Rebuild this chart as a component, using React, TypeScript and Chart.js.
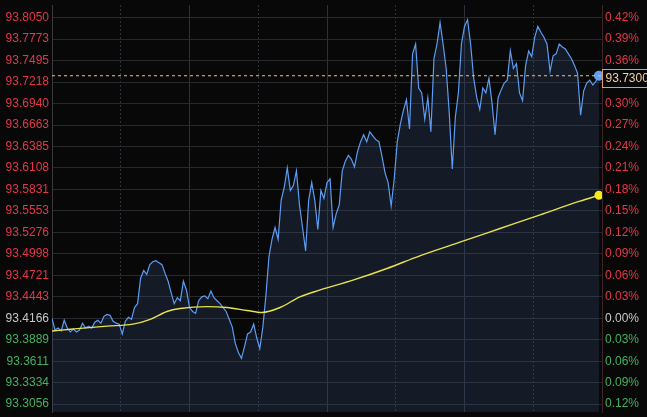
import React, { useEffect, useRef } from "react";
import { Chart, registerables } from "chart.js";

Chart.register(...registerables);

// ---- data ----
const PREV_CLOSE = 93.4166;
const LAST_PRICE = 93.73;
const SESSION_MINUTES = 1440;
const STEP_MINUTES = 8;

const prices = [
  93.4166, 93.4014, 93.404, 93.4002, 93.4141, 93.404, 93.3989, 93.4027, 93.3989, 93.4014,
  93.4103, 93.404, 93.4065, 93.404, 93.4115, 93.4141, 93.4103, 93.4191, 93.4216, 93.4204,
  93.4128, 93.4103, 93.409, 93.3964, 93.4128, 93.4178, 93.4153, 93.4305, 93.4355, 93.4683,
  93.4784, 93.4733, 93.4859, 93.4897, 93.491, 93.4885, 93.4859, 93.4746, 93.4645, 93.4494,
  93.4355, 93.4431, 93.4393, 93.4645, 93.4532, 93.4305, 93.4254, 93.4229, 93.4393, 93.4443,
  93.4456, 93.4418, 93.4519, 93.4431, 93.4393, 93.4355, 93.4305, 93.4254, 93.4153, 93.4052,
  93.3838, 93.3724, 93.3649, 93.38, 93.3964, 93.3989, 93.409, 93.3914, 93.3775, 93.4052,
  93.4456, 93.496, 93.5187, 93.5339, 93.5187, 93.5692, 93.5856, 93.6108, 93.5818, 93.5881,
  93.607, 93.5629, 93.5339, 93.5036, 93.5692, 93.5919, 93.5692, 93.5313, 93.5818, 93.5717,
  93.5919, 93.5969, 93.5339, 93.5515, 93.5629, 93.607, 93.6196, 93.6272, 93.6221, 93.6121,
  93.6322, 93.6448, 93.6537, 93.6448, 93.6575, 93.6524, 93.6474, 93.6448, 93.6259, 93.6045,
  93.5919, 93.5616, 93.5969, 93.6448, 93.6675, 93.6852, 93.6991, 93.6612, 93.7583, 93.771,
  93.7142, 93.7079, 93.6738, 93.7016, 93.6575, 93.752, 93.771, 93.7987, 93.771, 93.7394,
  93.6827, 93.6095, 93.6764, 93.7079, 93.771, 93.7937, 93.8025, 93.771, 93.7268, 93.7016,
  93.6865, 93.7142, 93.7079, 93.7268, 93.6953, 93.6537, 93.7016, 93.7117, 93.7205, 93.7243,
  93.7621, 93.7394, 93.7457, 93.7079, 93.6978, 93.7432, 93.7621, 93.7546, 93.7798, 93.7937,
  93.7861, 93.7798, 93.771, 93.7356, 93.7558, 93.7583, 93.771, 93.7672, 93.7646, 93.7583,
  93.752, 93.7432, 93.7331, 93.6789, 93.7104, 93.7205, 93.7243, 93.718, 93.723, 93.73,
];

const avgTimes = [0, 55, 144, 212, 257, 301, 335, 406, 458, 511, 550, 597, 649, 702, 788, 877, 963, 1068, 1173, 1278, 1382, 1432];
const avgPrices = [
  93.4002, 93.4027, 93.4065, 93.409, 93.4153, 93.4254, 93.4292, 93.4317, 93.4305, 93.4267, 93.4241,
  93.4305, 93.4443, 93.4532, 93.4658, 93.4809, 93.4973, 93.5149, 93.5326, 93.5503, 93.5679, 93.5755,
];

const priceTicks = [
  93.805, 93.7773, 93.7495, 93.7218, 93.694, 93.6663, 93.6385, 93.6108, 93.5831, 93.5553,
  93.5276, 93.4998, 93.4721, 93.4443, 93.4166, 93.3889, 93.3611, 93.3334, 93.3056,
];
const priceTickLabels = [
  "93.8050", "93.7773", "93.7495", "93.7218", "93.6940", "93.6663", "93.6385", "93.6108", "93.5831", "93.5553",
  "93.5276", "93.4998", "93.4721", "93.4443", "93.4166", "93.3889", "93.3611", "93.3334", "93.3056",
];
const pctTickLabels = [
  "0.42%", "0.39%", "0.36%", "0.33%", "0.30%", "0.27%", "0.24%", "0.21%", "0.18%", "0.15%",
  "0.12%", "0.09%", "0.06%", "0.03%", "0.00%", "0.03%", "0.06%", "0.09%", "0.12%",
];
const solidGridTimes = [0, 360, 720, 1080, 1440];
const dottedGridTimes = [180, 540, 900, 1260];

const Y_MIN = 93.2955;
const Y_MAX = 93.8214;

const RED = "#e2384a";
const GREEN = "#43b160";
const NEUTRAL = "#c8c8c8";
const FONT = { family: "'Liberation Sans', Arial, sans-serif", size: 12 };

function tickColor(v: number) {
  if (Math.abs(v - PREV_CLOSE) < 0.00005) return NEUTRAL;
  return v > PREV_CLOSE ? RED : GREEN;
}
function labelIndex(v: number) {
  let best = 0;
  let bd = Infinity;
  priceTicks.forEach((t, i) => {
    const d = Math.abs(t - v);
    if (d < bd) {
      bd = d;
      best = i;
    }
  });
  return best;
}

const lastPriceBox = {
  id: "lastPriceBox",
  afterDraw(chart: any) {
    const { ctx, chartArea, scales } = chart;
    const y = scales.y.getPixelForValue(LAST_PRICE);
    const x = Math.round(chartArea.right) + 0.5;
    const h = 18;
    const top = Math.round(y - h / 2 + 2) + 0.5;
    ctx.save();
    ctx.fillStyle = "#080808";
    ctx.fillRect(x, top, 60, h);
    ctx.strokeStyle = "#e0a070";
    ctx.lineWidth = 1;
    ctx.strokeRect(x, top, 60, h);
    ctx.fillStyle = "#f2cfa8";
    ctx.font = "12px 'Liberation Sans', Arial, sans-serif";
    ctx.textBaseline = "middle";
    ctx.textAlign = "left";
    ctx.fillText(LAST_PRICE.toFixed(4), x + 3, top + h / 2 + 0.5);
    ctx.restore();
  },
};

export default function App() {
  const ref = useRef<HTMLCanvasElement>(null);

  useEffect(() => {
    document.body.style.margin = "0";
    document.body.style.background = "#080808";
    if (!ref.current) return;

    const blueData = prices.map((p, i) => ({ x: i * STEP_MINUTES, y: p }));
    const avgData = avgPrices.map((p, i) => ({ x: avgTimes[i], y: p }));
    const lastData = [
      { x: 0, y: LAST_PRICE },
      { x: SESSION_MINUTES, y: LAST_PRICE },
    ];

    const chart = new Chart(ref.current, {
      type: "line",
      data: {
        datasets: [
          {
            data: avgData,
            borderColor: "#e8e24c",
            borderWidth: 1.4,
            tension: 0.4,
            cubicInterpolationMode: "monotone",
            pointRadius: (c: any) => (c.dataIndex === avgData.length - 1 ? 4.5 : 0),
            pointBackgroundColor: "#f6ea1e",
            pointBorderWidth: 0,
            fill: false,
          },
          {
            data: lastData,
            borderColor: "#e8bf86",
            borderWidth: 1,
            borderDash: [3, 3],
            pointRadius: 0,
            fill: false,
          },
          {
            data: blueData,
            borderColor: "#5c9cf2",
            borderWidth: 1.2,
            tension: 0,
            pointRadius: (c: any) => (c.dataIndex === blueData.length - 1 ? 5 : 0),
            pointBackgroundColor: "#5ea2f5",
            pointBorderWidth: 0,
            fill: "start",
            backgroundColor: "rgba(56,84,132,0.25)",
          },
        ],
      } as any,
      options: {
        animation: false,
        responsive: true,
        maintainAspectRatio: false,
        layout: { padding: 0 },
        plugins: { legend: { display: false }, tooltip: { enabled: false } },
        scales: {
          x: {
            type: "linear",
            min: 0,
            max: SESSION_MINUTES,
            position: "bottom",
            ticks: { display: false },
            grid: { color: "#2b303a", drawTicks: false, lineWidth: 1 },
            border: { display: false },
            afterBuildTicks: (s: any) => {
              s.ticks = solidGridTimes.map((v) => ({ value: v }));
            },
            afterFit: (s: any) => {
              s.height = 0;
              s.paddingLeft = 0;
              s.paddingRight = 0;
            },
          },
          x2: {
            type: "linear",
            min: 0,
            max: SESSION_MINUTES,
            position: "bottom",
            ticks: { display: false },
            grid: { color: "#2b303a", drawTicks: false, lineWidth: 1 },
            border: { display: false, dash: [2, 2] },
            afterBuildTicks: (s: any) => {
              s.ticks = dottedGridTimes.map((v) => ({ value: v }));
            },
            afterFit: (s: any) => {
              s.height = 0;
              s.paddingLeft = 0;
              s.paddingRight = 0;
            },
          },
          y: {
            type: "linear",
            position: "left",
            min: Y_MIN,
            max: Y_MAX,
            grid: { color: "#28292d", drawTicks: false, lineWidth: 1 },
            border: { display: true, color: "#3a3a3e" },
            ticks: {
              autoSkip: false,
              padding: 3,
              font: FONT,
              color: (c: any) => tickColor(c.tick.value),
              callback: (v: any) => priceTickLabels[labelIndex(Number(v))],
            },
            afterBuildTicks: (s: any) => {
              s.ticks = priceTicks.map((v) => ({ value: v }));
            },
            afterFit: (s: any) => {
              s.width = 52;
              s.paddingTop = 0;
              s.paddingBottom = 0;
            },
          },
          y1: {
            type: "linear",
            position: "right",
            min: Y_MIN,
            max: Y_MAX,
            grid: { display: false, drawTicks: false },
            border: { display: true, color: "#3a2626" },
            ticks: {
              autoSkip: false,
              padding: 3,
              font: FONT,
              color: (c: any) => tickColor(c.tick.value),
              callback: (v: any) => pctTickLabels[labelIndex(Number(v))],
            },
            afterBuildTicks: (s: any) => {
              s.ticks = priceTicks.map((v) => ({ value: v }));
            },
            afterFit: (s: any) => {
              s.width = 45;
              s.paddingTop = 0;
              s.paddingBottom = 0;
            },
          },
        },
      } as any,
      plugins: [lastPriceBox],
    });
    return () => chart.destroy();
  }, []);

  return (
    <div style={{ width: 647, height: 417, background: "#080808", position: "relative" }}>
      <canvas ref={ref} />
    </div>
  );
}
